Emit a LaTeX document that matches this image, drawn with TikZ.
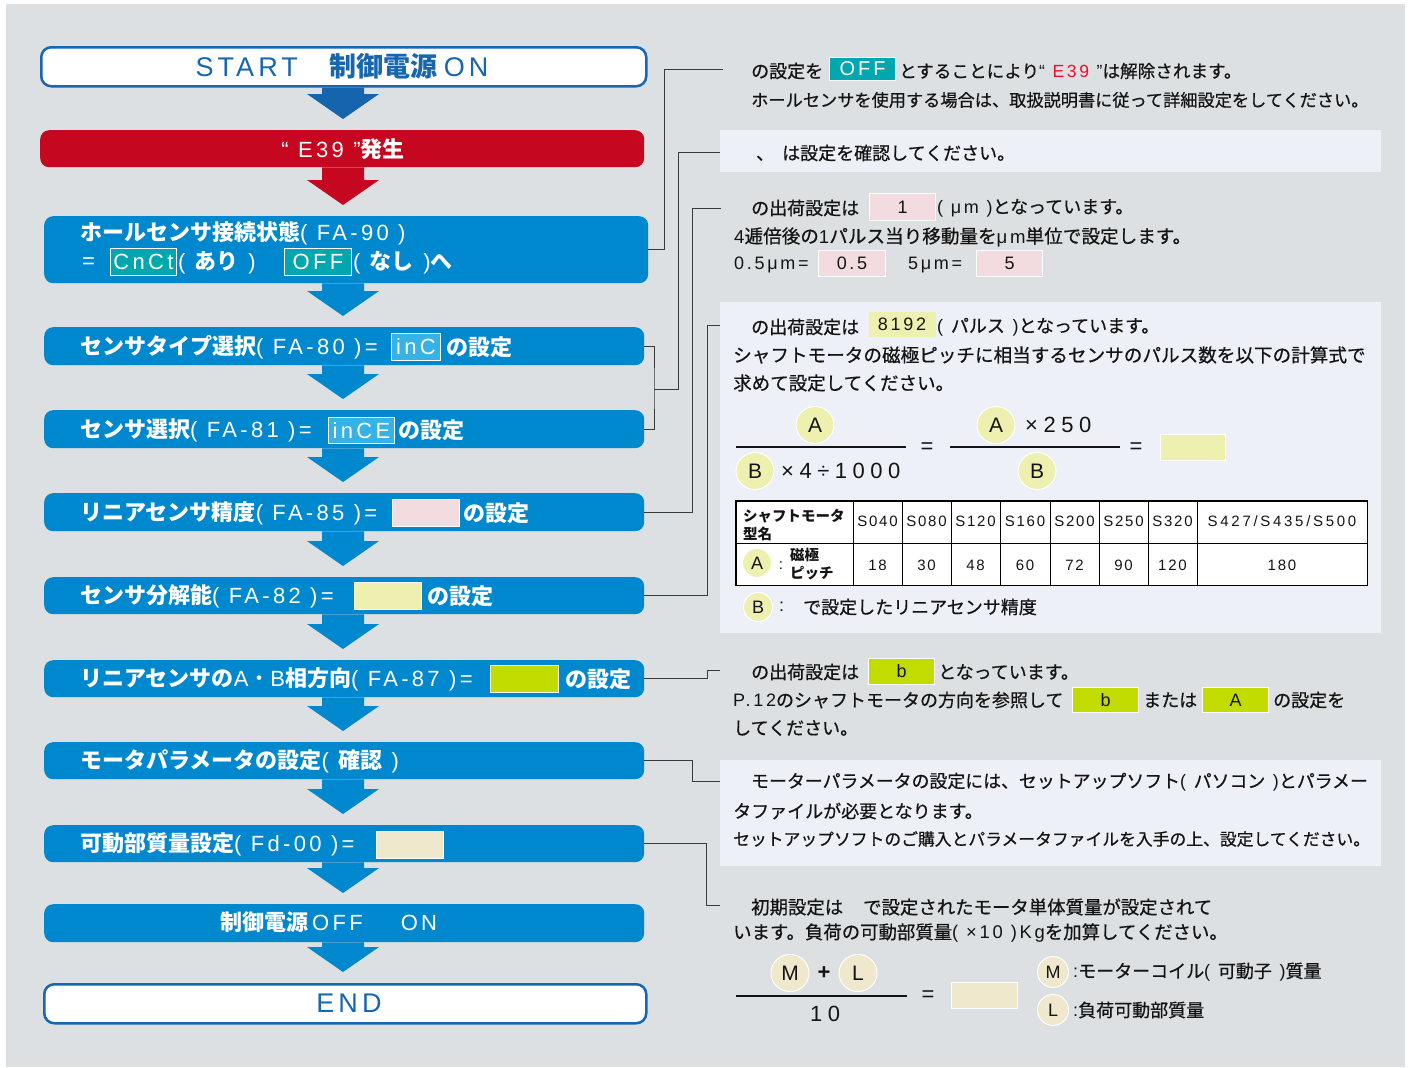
\documentclass[tikz,border=0pt]{standalone}
\usepackage{fontspec}
\setmainfont{Noto Sans CJK JP}
\newfontfamily\jpn{Noto Sans CJK JP}[FakeBold=0.6]
\newfontfamily\latf{Liberation Sans}[LetterSpace=15]
\newfontfamily\latw{Liberation Sans}[LetterSpace=25]
\newfontfamily\latt{Liberation Sans}[LetterSpace=12]
\newfontfamily\latm{Liberation Sans}[LetterSpace=18]
\newcommand\latn[1]{{\latf #1}}
\newcommand\jb[1]{{\bfseries #1}}
\usetikzlibrary{calc,shapes.geometric}
\definecolor{bgc}{HTML}{DCE0E3}
\definecolor{panelc}{HTML}{EEF0F8}
\definecolor{fblue}{HTML}{0088CE}
\definecolor{sblue}{HTML}{1766B0}
\definecolor{adark}{HTML}{1464AE}
\definecolor{cred}{HTML}{C5081F}
\definecolor{ered}{HTML}{E8102A}
\definecolor{cteal}{HTML}{00A7AF}
\definecolor{cinc}{HTML}{35B2E6}
\definecolor{cpink}{HTML}{F2DCE0}
\definecolor{cyel}{HTML}{EEF0B0}
\definecolor{cgreen}{HTML}{C2DC00}
\definecolor{cbeige}{HTML}{F0E8CC}
\definecolor{connc}{HTML}{3A3A3A}
\definecolor{txt}{HTML}{141414}
\newcommand\rectnode[7]{\node[#6, anchor=north west, minimum width={(#4-#2)*1pt}, minimum height={(#5-#3)*1pt}] (#1) at (#2,#3) {#7};}
\newcommand\flowarrow[3]{\fill[#3] let \p1=(#1.south), \p2=(#2.north) in
 (322pt,\y1) -- (322pt,\y2+36pt) -- (307pt,\y2+36pt) -- (343pt,\y2+11pt) -- (379pt,\y2+36pt) -- (364pt,\y2+36pt) -- (364pt,\y1) -- cycle;}
\begin{document}
\begin{tikzpicture}[x=1pt,y=-1pt,
  flow/.style={fill=fblue, rounded corners=9pt, inner sep=0},
  startbox/.style={fill=white, draw=sblue, line width=2.5pt, rounded corners=10pt, inner sep=0},
  errbox/.style={fill=cred, rounded corners=9pt, inner sep=0},
  ttl/.style={text=white, font=\fontsize{22}{26}\selectfont, inner sep=0, anchor=west},
  note/.style={text=txt, font=\jpn\fontsize{18}{20}\selectfont, inner sep=0, anchor=west},
  notesz/.style={note, font=\jpn\fontsize{#1}{20}\selectfont},
  panel/.style={fill=panelc, inner sep=0},
  valbox/.style={draw=white, line width=1pt, inner sep=0},
  valw/.style={valbox, text=white, font=\latf\fontsize{22}{24}\selectfont},
  valn/.style={valbox, text=txt, font=\latf\fontsize{18}{20}\selectfont},
  conn/.style={draw=connc, line width=1pt},
  fline/.style={draw=txt, line width=1.4pt},
  fml/.style={text=txt, inner sep=0, font=\latw\fontsize{22}{24}\selectfont},
  circ/.style={ellipse, fill=cyel, draw=white, line width=1pt, inner sep=0, minimum width=38pt, minimum height=37pt, text=txt, font=\latf\fontsize{21}{24}\selectfont},
  circs/.style={circ, minimum width=29pt, minimum height=29pt, font=\latf\fontsize{18}{20}\selectfont},
  tcell/.style={text=txt, inner sep=0, font=\latt\fontsize{15}{17}\selectfont},
  tjb/.style={text=txt, inner sep=0, anchor=west, font=\bfseries\fontsize{14.5}{16}\selectfont}]
\useasboundingbox (0,0) rectangle (1411,1068);
\fill[white] (0,0) rectangle (1411,1068);
\fill[bgc] (6,4) rectangle (1405,1067);

% ---------- left flow ----------
\rectnode{start}{40}{46}{645}{85}{startbox}{}
\rectnode{e39}{40}{130}{644}{167}{errbox}{}
\rectnode{b3}{44}{216}{648}{283}{flow}{}
\rectnode{b4}{44}{327}{644}{365}{flow}{}
\rectnode{b5}{44}{410}{644}{448}{flow}{}
\rectnode{b6}{44}{493}{644}{531}{flow}{}
\rectnode{b7}{44}{577}{644}{614}{flow}{}
\rectnode{b8}{44}{660}{644}{697}{flow}{}
\rectnode{b9}{44}{742}{644}{779}{flow}{}
\rectnode{b10}{44}{825}{644}{862}{flow}{}
\rectnode{b11}{44}{904}{644}{942}{flow}{}
\rectnode{endb}{43}{983}{645}{1022}{startbox}{}

\flowarrow{start}{e39}{adark}
\flowarrow{e39}{b3}{cred}
\flowarrow{b3}{b4}{fblue}
\flowarrow{b4}{b5}{fblue}
\flowarrow{b5}{b6}{fblue}
\flowarrow{b6}{b7}{fblue}
\flowarrow{b7}{b8}{fblue}
\flowarrow{b8}{b9}{fblue}
\flowarrow{b9}{b10}{fblue}
\flowarrow{b10}{b11}{fblue}
\flowarrow{b11}{endb}{fblue}

\node[inner sep=0, text=sblue, font=\fontsize{27}{30}\selectfont] (startt) at (342,66) {\latn{START}\hspace{32pt}\jb{制御電源}\hspace{6pt}\latn{ON}};
\node[ttl, anchor=center] (e39t) at (343,149) {\latn{“ E39 ”}\jb{発生}};

\node[ttl] (t3a) at (80,233) {\jb{ホールセンサ接続状態}\latn{( FA-90 )}};
\node[ttl] (t3b) at (82,263) {\latn{=}};
\rectnode{v3a}{110}{248}{176}{275}{valw,fill=cteal}{CnCt}
\node[ttl] (t3c) at (178,263) {\latn{( }\jb{あり}\latn{ )}};
\rectnode{v3b}{284}{248}{351}{275}{valw,fill=cteal}{OFF}
\node[ttl] (t3d) at (353,263) {\latn{( }\jb{なし}\latn{ )}\jb{へ}};

\node[ttl] (t4) at (80,347) {\jb{センサタイプ選択}\latn{( FA-80 )=}};
\rectnode{v4}{391}{333}{440}{360}{valw,fill=cinc}{inC}
\node[ttl] (t4b) at (446,347) {\jb{の設定}};

\node[ttl] (t5) at (80,430) {\jb{センサ選択}\latn{( FA-81 )=}};
\rectnode{v5}{328}{417}{394}{443}{valw,fill=cinc}{inCE}
\node[ttl] (t5b) at (398,430) {\jb{の設定}};

\node[ttl] (t6) at (80,513) {\jb{リニアセンサ精度}\latn{( FA-85 )=}};
\rectnode{v6}{392}{499}{459}{526}{valbox,fill=cpink}{}
\node[ttl] (t6b) at (463,513) {\jb{の設定}};

\node[ttl] (t7) at (80,596) {\jb{センサ分解能}\latn{( FA-82 )=}};
\rectnode{v7}{354}{582}{421}{609}{valbox,fill=cyel}{}
\node[ttl] (t7b) at (427,596) {\jb{の設定}};

\node[ttl] (t8) at (80,679) {\jb{リニアセンサの}\latn{A}・\latn{B}\jb{相方向}\latn{( FA-87 )=}};
\rectnode{v8}{490}{665}{558}{692}{valbox,fill=cgreen}{}
\node[ttl] (t8b) at (565,679) {\jb{の設定}};

\node[ttl] (t9) at (80,761) {\jb{モータパラメータの設定}\latn{( }\jb{確認}\latn{ )}};

\node[ttl] (t10) at (80,844) {\jb{可動部質量設定}\latn{( Fd-00 )=}};
\rectnode{v10}{376}{831}{443}{858}{valbox,fill=cbeige}{}

\node[ttl] (t11) at (220,922) {\jb{制御電源}\hspace{4pt}\latn{OFF}\hspace{38pt}\latn{ON}};
\node[inner sep=0, text=sblue, font=\fontsize{27}{30}\selectfont] (endt) at (349,1003) {\latn{END}};

% ---------- right panels ----------
\rectnode{panel2}{720}{130}{1381}{172}{panel}{}
\rectnode{panel4}{720}{302}{1381}{633}{panel}{}
\rectnode{panel6}{720}{760}{1381}{866}{panel}{}

\coordinate (p1) at (723,69);
\coordinate (p2) at (720,152);
\coordinate (p3) at (721,208);
\coordinate (p4) at (720,325);
\coordinate (p5) at (720,670);
\coordinate (p6) at (720,781);
\coordinate (p7) at (720,905);
\draw[conn] (b3.east) -| (664,69) -- (p1);
\draw[conn] (b4.east) -| (654,389) |- (b5.east);
\draw[conn] (654,389) -| (678,152) -- (p2);
\draw[conn] (b6.east) -| (692,208) -- (p3);
\draw[conn] (b7.east) -| (707,325) -- (p4);
\draw[conn] (b8.east) -| (707,670) -- (p5);
\draw[conn] (b9.east) -| (692,781) -- (p6);
\draw[conn] (b10.east) -| (706,905) -- (p7);

% P1
\node[note] (n1a) at (751,71) {の設定を};
\rectnode{n1off}{829}{57}{895}{80}{valbox,fill=cteal,text=white,font=\latf\fontsize{20}{22}\selectfont}{OFF}
\node[notesz=17.6] (n1b) at (899,71) {とすることにより\latn{“ }\textcolor{ered}{\latn{E39}}\latn{ ”}は解除されます。};
\node[notesz=17.2] (n1c) at (751,100) {ホールセンサを使用する場合は、取扱説明書に従って詳細設定をしてください。};

% P2
\node[note] (n2) at (756,153) {、\hspace{8pt}は設定を確認してください。};

% P3
\node[note] (n3a) at (751,208) {の出荷設定は};
\rectnode{n3v}{869}{193}{935}{220}{valn,fill=cpink}{1}
\node[note] (n3b) at (937,208) {\latn{( μm )}となっています。};
\node[notesz=18.6] (n3c) at (734,237) {\latn{4}逓倍後の\latn{1}パルス当り移動量を\latn{μm}単位で設定します。};
\node[note] (n3d) at (734,265) {\latn{0.5μm=}};
\rectnode{n3e}{818}{250}{885}{276}{valn,fill=cpink}{0.5}
\node[note] (n3f) at (908,265) {\latn{5μm=}};
\rectnode{n3g}{976}{250}{1042}{276}{valn,fill=cpink}{5}

% P4
\node[note] (n4a) at (751,327) {の出荷設定は};
\rectnode{n4v}{868}{311}{935}{336}{valn,fill=cyel,draw=none}{8192}
\node[note] (n4b) at (937,327) {\latn{( }パルス\latn{ )}となっています。};
\node[notesz=18.6] (n4c) at (733,355) {シャフトモータの磁極ピッチに相当するセンサのパルス数を以下の計算式で};
\node[notesz=18.5] (n4d) at (733,383) {求めて設定してください。};

\node[circ] (fa1) at (815,425) {A};
\node[circ] (fb1) at (755,471) {B};
\node[fml, anchor=west] (fx1) at (781,471) {×4÷1000};
\draw[fline] (736,447) -- (906,447);
\node[fml] (feq1) at (927,448) {=};
\draw[fline] (950,447) -- (1120,447);
\node[circ] (fa2) at (996,425) {A};
\node[fml, anchor=west] (fx2) at (1025,425) {×250};
\node[circ] (fb2) at (1037,471) {B};
\node[fml] (feq2) at (1136,448) {=};
\rectnode{fres1}{1160}{434}{1225}{460}{valbox,fill=cyel}{}

% table
\rectnode{tbl}{736}{501}{1367}{585}{fill=white, inner sep=0}{}
\draw[black, line width=1pt] (736,543) -- (1367,543);
\foreach \x in {853,902,951,1000,1050,1099,1148,1197} \draw[black, line width=1pt] (\x,501) -- (\x,585);
\draw[black, line width=1.8pt] (tbl.north west) rectangle (tbl.south east);
\node[tjb] (th1) at (743,516) {シャフトモータ};
\node[tjb] (th2) at (743,534) {型名};
\foreach \t/\x [count=\i] in {S040/877.5,S080/926.5,S120/975.5,S160/1025,S200/1074.5,S250/1123.5,S320/1172.5}
  \node[tcell] (h\i) at (\x,521) {\t};
\node[tcell, font=\latm\fontsize{15}{17}\selectfont] (h8) at (1282,521) {S427/S435/S500};
\node[circs] (ta) at (757,563) {A};
\node[tcell] (tcolon) at (781,566) {:};
\node[tjb] (tr1) at (790,555) {磁極};
\node[tjb] (tr2) at (790,573) {ピッチ};
\foreach \t/\x [count=\i] in {18/877.5,30/926.5,48/975.5,60/1025,72/1074.5,90/1123.5,120/1172.5,180/1282}
  \node[tcell] (r\i) at (\x,565) {\t};

\node[circs] (lb) at (758,607) {B};
\node[note] (lbc) at (779,607) {\latn{:}};
\node[note] (lbt) at (803,607) {で設定したリニアセンサ精度};

% P5
\node[note] (n5a) at (751,672) {の出荷設定は};
\rectnode{n5v}{868}{658}{934}{684}{valn,fill=cgreen}{b}
\node[note] (n5b) at (938,672) {となっています。};
\node[note] (n5c) at (733,700) {\latn{P.12}のシャフトモータの方向を参照して};
\rectnode{n5d}{1072}{687}{1138}{712}{valn,fill=cgreen}{b}
\node[note] (n5e) at (1143,700) {または};
\rectnode{n5f}{1202}{687}{1268}{712}{valn,fill=cgreen}{A}
\node[note] (n5g) at (1273,700) {の設定を};
\node[note] (n5h) at (733,728) {してください。};

% P6
\node[notesz=17.9] (n6a) at (751,782) {モーターパラメータの設定には、セットアップソフト\latn{( }パソコン\latn{ )}とパラメー};
\node[note] (n6b) at (733,811) {タファイルが必要となります。};
\node[notesz=16.8] (n6c) at (733,839) {セットアップソフトのご購入とパラメータファイルを入手の上、設定してください。};

% P7
\node[notesz=18.4] (n7a) at (751,907) {初期設定は\hspace{20pt}で設定されたモータ単体質量が設定されて};
\node[notesz=18.4] (n7b) at (733,933) {います。負荷の可動部質量\latn{( ×10 )Kg}を加算してください。};
\node[circ, fill=cbeige] (fm) at (790,973) {M};
\node[fml, font=\latf\bfseries\fontsize{22}{24}\selectfont] (fplus) at (824,973) {+};
\node[circ, fill=cbeige] (fl) at (858,973) {L};
\draw[fline] (736,996) -- (907,996);
\node[fml] (f10) at (825,1014) {10};
\node[fml] (feq3) at (928,996) {=};
\rectnode{fres2}{951}{982}{1017}{1008}{valbox,fill=cbeige}{}
\node[circs, fill=cbeige, minimum width=31pt, minimum height=31pt] (lm) at (1053,972) {M};
\node[note] (lmt) at (1073,972) {\latn{:}モーターコイル\latn{( }可動子\latn{ )}質量};
\node[circs, fill=cbeige, minimum width=31pt, minimum height=31pt] (ll) at (1053,1010) {L};
\node[note] (llt) at (1073,1010) {\latn{:}負荷可動部質量};
\end{tikzpicture}
\end{document}
